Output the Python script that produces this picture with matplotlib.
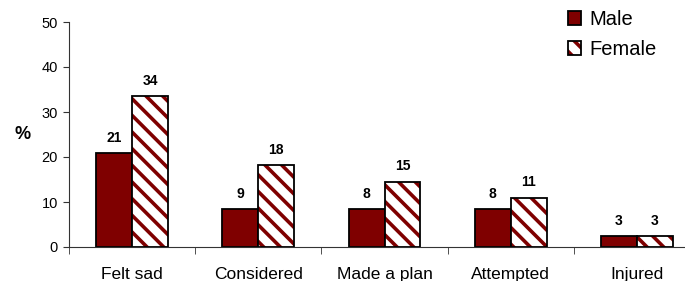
import matplotlib
matplotlib.use("Agg")
import matplotlib.pyplot as plt
import numpy as np

categories = ["Felt sad", "Considered", "Made a plan", "Attempted", "Injured"]
male = [20.9, 8.4, 8.4, 8.4, 2.4]
female = [33.6, 18.2, 14.5, 11.0, 2.4]
male_labels = ["21", "9", "8", "8", "3"]
female_labels = ["34", "18", "15", "11", "3"]

red = "#7f0000"
plt.rcParams["font.family"] = ["Liberation Sans", "DejaVu Sans"]
plt.rcParams["hatch.linewidth"] = 2.6

fig = plt.figure(figsize=(6.85, 2.81), dpi=100)
ax = fig.add_axes([69 / 685, 34 / 281, 631 / 685, 225 / 281])

x = np.arange(len(categories))
w = 0.285
b1 = ax.bar(x - w / 2, male, w, color=red, edgecolor="black", linewidth=1.3, label="Male")
# hatch takes the edge colour, so fill + hatch first, black outline on top
b2h = ax.bar(x + w / 2, female, w, color="white", edgecolor=red, linewidth=0, hatch="\\\\")
b2 = ax.bar(x + w / 2, female, w, fill=False, edgecolor="black", linewidth=1.3)

for xi, v, t in zip(x, male, male_labels):
    ax.annotate(t, (xi - w / 2, v), xytext=(0, 11), textcoords="offset points",
                ha="center", va="center", fontsize=10, fontweight="bold")
for xi, v, t in zip(x, female, female_labels):
    ax.annotate(t, (xi + w / 2, v), xytext=(0, 11), textcoords="offset points",
                ha="center", va="center", fontsize=10, fontweight="bold")

ax.set_xlim(-0.5, 4.5)
ax.set_ylim(0, 50)
ax.set_yticks(range(0, 51, 10))
ax.tick_params(axis="y", labelsize=10.5, length=4, pad=4, color="#333333")
ax.set_xticks(x)
ax.set_xticklabels(categories, fontsize=12.5)
ax.tick_params(axis="x", length=0, pad=14.5)
ax.set_xticks(np.arange(-0.5, 5, 1), minor=True)
ax.tick_params(axis="x", which="minor", length=5, color="#333333")
for s in ["top", "right"]:
    ax.spines[s].set_visible(False)
ax.spines["left"].set_color("#333333")
ax.spines["bottom"].set_color("#333333")

ax.text(-0.87, 25, "%", fontsize=13, fontweight="bold",
        ha="center", va="center", clip_on=False)

fig.legend(handles=[b1[0], (b2h[0], b2[0])], labels=["Male", "Female"],
           loc="upper left", bbox_to_anchor=(568 / 685, 1 - 10 / 281),
           frameon=False, fontsize=14.5, handlelength=0.65, handleheight=0.65,
           handletextpad=0.4, labelspacing=0.55, borderpad=0, borderaxespad=0)

fig.savefig("out.png", dpi=100)
